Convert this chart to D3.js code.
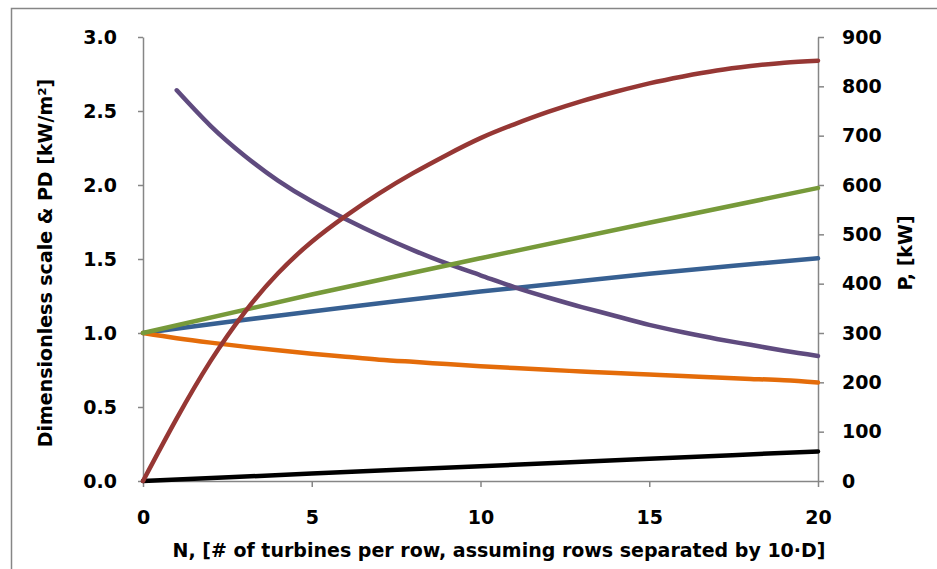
<!DOCTYPE html>
<html>
<head>
<meta charset="utf-8">
<script src="https://cdn.jsdelivr.net/npm/d3@7"></script>
<style>
body { margin: 0; background: #fff; }
svg text { font-family: "DejaVu Sans", sans-serif; font-weight: bold; fill: #000; }
</style>
</head>
<body>
<svg id="chart" width="937" height="569"></svg>
<script>
// values
var xTicks = [0, 5, 10, 15, 20];
var leftTicks = [0, 0.5, 1.0, 1.5, 2.0, 2.5, 3.0];
var rightTicks = [0, 100, 200, 300, 400, 500, 600, 700, 800, 900];

var nLinear = [0, 5, 10, 15, 20];
var blackValues = [0, 0.05, 0.10, 0.15, 0.20];
var greenValues = [1.0, 1.26, 1.505, 1.745, 1.98];

var nBlue = [0, 2.5, 5, 7.5, 10, 12.5, 15, 17.5, 20];
var blueValues = [1.0, 1.075, 1.145, 1.215, 1.28, 1.34, 1.40, 1.455, 1.505];

var nAll = [0, 1, 2, 3, 4, 5, 6, 7, 8, 9, 10, 11, 12, 13, 14, 15, 16, 17, 18, 19, 20];
var orangeValues = [1.0, 0.965, 0.935, 0.908, 0.883, 0.86, 0.84, 0.82, 0.805, 0.79, 0.776,
	0.763, 0.751, 0.74, 0.729, 0.719, 0.709, 0.7, 0.69, 0.68, 0.665];
// red is read on the right axis, in kW
var redValues = [0, 127, 243, 341, 421, 485, 537, 583, 624, 661, 695,
	723, 748, 770, 789, 806, 820, 832, 841, 848, 852];

var nPurple = [1, 2, 3, 4, 5, 6, 7, 8, 9, 10, 11, 12, 13, 14, 15, 16, 17, 18, 19, 20];
var purpleValues = [2.64, 2.40, 2.20, 2.03, 1.89, 1.77, 1.66, 1.56, 1.47, 1.39,
	1.31, 1.24, 1.175, 1.115, 1.055, 1.005, 0.96, 0.92, 0.88, 0.845];

var axisColor = "#868686";
var svg = d3.select("#chart");

svg.append("rect")
	.attr("x", 11.5).attr("y", 8.5)
	.attr("width", 1000).attr("height", 1000)
	.attr("fill", "none")
	.attr("stroke", axisColor)
	.attr("stroke-width", 1.5);

var x = d3.scaleLinear().domain([0, 20]).range([143, 818]);
var yLeft = d3.scaleLinear().domain([0, 3]).range([481, 37]);
var yRight = d3.scaleLinear().domain([0, 900]).range([481, 37]);

var styleAxis = function(g) {
	g.attr("font-size", null).attr("font-family", null);
	g.selectAll("path.domain").attr("stroke", axisColor).attr("stroke-width", 1.5);
	g.selectAll(".tick line").attr("stroke", axisColor).attr("stroke-width", 1.5);
	g.selectAll(".tick text").style("font-size", "19px");
};

svg.append("g")
	.attr("transform", "translate(0,481)")
	.call(d3.axisBottom(x).tickValues(xTicks).tickSize(6).tickSizeOuter(0).tickPadding(24))
	.call(styleAxis);

svg.append("g")
	.attr("transform", "translate(143,0)")
	.call(d3.axisLeft(yLeft).tickValues(leftTicks).tickFormat(d3.format(".1f"))
		.tickSize(5).tickSizeOuter(0).tickPadding(21))
	.call(styleAxis);

svg.append("g")
	.attr("transform", "translate(818,0)")
	.call(d3.axisRight(yRight).tickValues(rightTicks).tickSize(6).tickSizeOuter(0).tickPadding(18))
	.call(styleAxis);

var series = [
	{ xs: nLinear, ys: blackValues, y: yLeft, color: "#000000" },
	{ xs: nBlue, ys: blueValues, y: yLeft, color: "#376092" },
	{ xs: nAll, ys: orangeValues, y: yLeft, color: "#e46c0a" },
	{ xs: nPurple, ys: purpleValues, y: yLeft, color: "#5f4b7f" },
	{ xs: nLinear, ys: greenValues, y: yLeft, color: "#779a3a" },
	{ xs: nAll, ys: redValues, y: yRight, color: "#963734" }
];

series.forEach(function(s) {
	var line = d3.line()
		.x(function(d, i) { return x(s.xs[i]); })
		.y(function(d) { return s.y(d); })
		.curve(d3.curveNatural);
	svg.append("path")
		.datum(s.ys)
		.attr("d", line)
		.attr("fill", "none")
		.attr("stroke", s.color)
		.attr("stroke-width", 4.5)
		.attr("stroke-linecap", "round")
		.attr("stroke-linejoin", "round");
});

svg.append("text")
	.attr("x", 499).attr("y", 557)
	.attr("text-anchor", "middle")
	.style("font-size", "19px")
	.text("N, [# of turbines per row, assuming rows separated by 10\u00b7D]");

svg.append("text")
	.attr("transform", "translate(52,263) rotate(-90)")
	.attr("text-anchor", "middle")
	.style("font-size", "19px")
	.text("Dimensionless scale & PD [kW/m\u00b2]");

svg.append("text")
	.attr("transform", "translate(912,253) rotate(-90)")
	.attr("text-anchor", "middle")
	.style("font-size", "19px")
	.text("P, [kW]");
</script>
</body>
</html>
